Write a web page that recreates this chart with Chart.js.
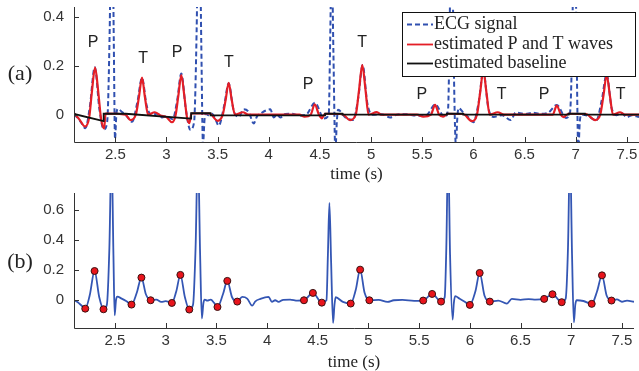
<!DOCTYPE html>
<html>
<head>
<meta charset="utf-8">
<script src="https://cdn.jsdelivr.net/npm/chart.js@4.4.1/dist/chart.umd.min.js"></script>
<style>
  html, body { margin: 0; padding: 0; background: #fff; }
  #wrap { position: relative; width: 639px; height: 371px; }
  #chartA { position: absolute; left: 0; top: 0; }
  #chartB { position: absolute; left: 0; top: 185px; }
</style>
</head>
<body>
<div id="wrap">
  <canvas id="chartA" width="639" height="185"></canvas>
  <canvas id="chartB" width="639" height="186"></canvas>
</div>
<script>
// ECG samples (s, mV-ish)
const ecgTime = [
  2.096, 2.13, 2.17, 2.207, 2.25, 2.299, 2.345, 2.387, 2.42, 2.445, 2.466, 2.485, 2.497, 2.51, 2.523,
  2.566, 2.614, 2.663, 2.715, 2.761, 2.805, 2.852, 2.908, 2.956, 3.0, 3.061, 3.105, 3.145, 3.19, 3.233,
  3.27, 3.295, 3.318, 3.34, 3.357, 3.372, 3.386, 3.41, 3.445, 3.478, 3.511, 3.565, 3.608, 3.655, 3.706,
  3.755, 3.804, 3.853, 3.885, 3.934, 4.015, 4.048, 4.08, 4.113, 4.16, 4.227, 4.30, 4.364, 4.452, 4.54,
  4.586, 4.60, 4.615, 4.632, 4.651, 4.665, 4.677, 4.748, 4.825, 4.875, 4.918, 4.962, 5.009, 5.10, 5.188,
  5.25, 5.335, 5.45, 5.54, 5.628, 5.716, 5.752, 5.768, 5.786, 5.805, 5.83, 5.842, 5.855, 5.90, 5.95,
  6.0, 6.055, 6.097, 6.145, 6.197, 6.28, 6.365, 6.414, 6.50, 6.58, 6.65, 6.733, 6.815, 6.906, 6.945,
  6.968, 6.988, 7.008, 7.026, 7.04, 7.055, 7.12, 7.202, 7.255, 7.303, 7.35, 7.397, 7.45, 7.50, 7.55, 7.619
];
const ecgValue = [
  0.0, -0.012, -0.035, -0.056, 0.03, 0.195, 0.02, -0.06, -0.03, 0.35, 1.0, 0.3, -0.10, 0.0, 0.024,
  0.011, -0.007, -0.029, 0.05, 0.151, 0.04, 0.0, 0.004, -0.011, -0.006, -0.018, 0.06, 0.169, 0.02, -0.062,
  -0.03, 0.35, 1.0, 0.3, -0.122, -0.02, 0.004, -0.002, 0.004, -0.018, -0.045, 0.04, 0.129, 0.02, -0.009,
  0.022, 0.011, -0.036, -0.007, 0.009, 0.022, -0.011, 0.0, -0.011, 0.003, 0.004, -0.003, 0.0, 0.049, -0.016,
  0.0, 0.3, 0.649, 0.25, -0.151, -0.03, 0.02, -0.011, -0.022, 0.07, 0.204, 0.05, 0.0, 0.002, -0.011,
  0.0, 0.002, -0.004, -0.002, 0.042, -0.009, 0.02, 0.35, 1.0, 0.3, -0.129, -0.02, 0.027, 0.01, -0.01,
  -0.031, 0.06, 0.182, 0.03, -0.009, -0.002, -0.022, 0.009, 0.003, 0.008, 0.004, 0.009, 0.04, -0.013, 0.01,
  0.35, 1.0, 0.3, -0.147, -0.03, 0.0, -0.005, -0.024, 0.06, 0.166, 0.03, -0.002, 0.006, -0.01, -0.002, -0.01
];

// estimated P and T waves (red)
const waveTime = [
  2.096, 2.15, 2.204, 2.245, 2.27, 2.302, 2.334, 2.36, 2.39, 2.405, 2.60, 2.647, 2.70, 2.73, 2.761,
  2.79, 2.82, 2.885, 2.94, 3.0, 3.054, 3.09, 3.115, 3.145, 3.175, 3.20, 3.223, 3.245, 3.42, 3.50,
  3.55, 3.578, 3.608, 3.638, 3.67, 3.748, 3.80, 4.30, 4.35, 4.41, 4.449, 4.49, 4.518, 4.55, 4.72,
  4.794, 4.85, 4.882, 4.914, 4.946, 4.975, 5.056, 5.10, 5.45, 5.51, 5.585, 5.625, 5.665, 5.706, 5.75,
  5.90, 5.984, 6.035, 6.066, 6.097, 6.128, 6.16, 6.238, 6.30, 6.72, 6.775, 6.815, 6.855, 6.88, 6.93,
  7.10, 7.19, 7.24, 7.272, 7.303, 7.334, 7.365, 7.433, 7.48, 7.619
];
const waveValue = [
  0.006, -0.02, -0.049, -0.01, 0.09, 0.193, 0.09, -0.015, -0.056, 0.005, 0.0, -0.022, 0.0, 0.07, 0.152,
  0.07, 0.0, 0.01, -0.003, -0.01, -0.031, 0.0, 0.075, 0.163, 0.075, -0.01, -0.035, 0.005, 0.005, -0.025,
  0.0, 0.06, 0.131, 0.06, 0.0, 0.01, 0.0, 0.0, -0.008, 0.0, 0.043, 0.0, -0.015, 0.004, 0.002,
  -0.022, 0.0, 0.1, 0.204, 0.1, 0.0, 0.011, 0.0, 0.0, -0.008, 0.0, 0.04, 0.0, -0.008, 0.004,
  0.003, -0.026, 0.0, 0.09, 0.182, 0.09, 0.0, 0.01, 0.0, 0.0, 0.0, 0.037, 0.0, -0.01, 0.004,
  0.003, -0.022, 0.0, 0.08, 0.163, 0.08, 0.0, 0.01, 0.0, 0.0
];

// estimated baseline (black)
const baseTime = [2.096, 2.385, 2.386, 2.60, 3.24, 3.241, 3.43, 3.431, 4.55, 4.551, 4.72, 4.721,
  5.74, 5.741, 5.90, 5.901, 6.93, 6.931, 7.09, 7.091, 7.619];
const baseValue = [0.003, -0.026, 0.004, 0.004, -0.016, 0.006, 0.006, -0.003, -0.003, 0.004, 0.004, 0.0,
  0.0, 0.004, 0.004, 0.0, 0.0, 0.004, 0.004, 0.0, 0.0];

// detected onset / peak / end points (panel b)
const dotTime = [2.207, 2.299, 2.387, 2.663, 2.761, 2.852, 3.061, 3.145, 3.233, 3.511, 3.608, 3.706,
  4.364, 4.452, 4.54, 4.825, 4.918, 5.009, 5.54, 5.628, 5.716, 6.0, 6.097, 6.197,
  6.733, 6.815, 6.906, 7.202, 7.303, 7.397];
const dotValue = [-0.056, 0.195, -0.06, -0.029, 0.151, 0.0, -0.018, 0.169, -0.062, -0.045, 0.129, -0.009,
  0.0, 0.049, -0.016, -0.022, 0.204, 0.0, -0.002, 0.042, -0.009, -0.031, 0.182, -0.009,
  0.009, 0.04, -0.013, -0.024, 0.166, -0.002];

// P / T annotations (panel a)
const markText = ['P', 'T', 'P', 'T', 'P', 'T', 'P', 'T', 'P', 'T'];
const markTime = [2.282, 2.771, 3.103, 3.611, 4.384, 4.912, 5.495, 6.277, 6.691, 7.44];
const markValue = [0.294, 0.229, 0.253, 0.212, 0.122, 0.294, 0.081, 0.081, 0.081, 0.081];

const xTicks = [2.5, 3, 3.5, 4, 4.5, 5, 5.5, 6, 6.5, 7, 7.5];
const yTicksA = [0, 0.2, 0.4];
const yTicksB = [0, 0.2, 0.4, 0.6];

const pts = (xs, ys) => xs.map((t, i) => ({ x: t, y: ys[i] }));

const SANS = '"Liberation Sans", Arial, sans-serif';
const SERIF = '"Liberation Serif", "Times New Roman", serif';

// axis lines with inward ticks, plus panel tag
const frame = {
  id: 'frame',
  afterDatasetsDraw(chart, args, opts) {
    const { ctx, chartArea: a, scales: { x, y } } = chart;
    ctx.save();
    ctx.strokeStyle = '#333';
    ctx.lineWidth = 1;
    ctx.beginPath();
    ctx.moveTo(a.left + 0.5, a.top);
    ctx.lineTo(a.left + 0.5, a.bottom + 0.5);
    ctx.lineTo(a.right, a.bottom + 0.5);
    xTicks.forEach(v => {
      const px = Math.round(x.getPixelForValue(v)) + 0.5;
      ctx.moveTo(px, a.bottom);
      ctx.lineTo(px, a.bottom - 5);
    });
    opts.yTicks.forEach(v => {
      const py = Math.round(y.getPixelForValue(v)) + 0.5;
      ctx.moveTo(a.left, py);
      ctx.lineTo(a.left + 5, py);
    });
    ctx.stroke();
    ctx.fillStyle = '#222';
    ctx.font = '22px ' + SERIF;
    ctx.textAlign = 'center';
    ctx.textBaseline = 'middle';
    ctx.fillText(opts.tag, 20, opts.tagY);
    ctx.restore();
  }
};

// P/T letters and the boxed legend of panel a
const notes = {
  id: 'notes',
  afterDatasetsDraw(chart, args, opts) {
    if (!opts.on) return;
    const { ctx, scales: { x, y } } = chart;
    ctx.save();
    ctx.fillStyle = '#222';
    ctx.font = '16px ' + SANS;
    ctx.textAlign = 'center';
    ctx.textBaseline = 'middle';
    markText.forEach((s, i) => ctx.fillText(s, x.getPixelForValue(markTime[i]), y.getPixelForValue(markValue[i])));

    ctx.fillStyle = '#fff';
    ctx.fillRect(402, 12, 233, 64);
    ctx.strokeStyle = '#111';
    ctx.lineWidth = 1;
    ctx.strokeRect(402.5, 12.5, 233, 64);
    const rows = [
      { t: 'ECG signal', c: '#3050b0', d: [5, 3], y: 24 },
      { t: 'estimated P and T waves', c: '#e41e26', d: [], y: 44 },
      { t: 'estimated baseline', c: '#111', d: [], y: 63 }
    ];
    ctx.font = '18px ' + SERIF;
    ctx.textAlign = 'left';
    rows.forEach(r => {
      ctx.strokeStyle = r.c;
      ctx.lineWidth = 1.8;
      ctx.setLineDash(r.d);
      ctx.beginPath();
      ctx.moveTo(407, r.y + 0.5);
      ctx.lineTo(433, r.y + 0.5);
      ctx.stroke();
      ctx.setLineDash([]);
      ctx.fillStyle = '#222';
      ctx.fillText(r.t, 434, r.y);
    });
    ctx.restore();
  }
};

function makeScales(yMin, yMax, yTicks, titlePad) {
  return {
    x: {
      type: 'linear',
      min: 2.096,
      max: 7.619,
      afterBuildTicks: s => { s.ticks = xTicks.map(v => ({ value: v })); },
      afterFit: s => { s.height = 43; s.paddingLeft = 0; s.paddingRight = 0; },
      grid: { display: false, drawTicks: false },
      border: { display: false },
      ticks: { padding: 4, color: '#333', font: { family: SANS, size: 15 }, callback: v => String(v), autoSkip: false, maxRotation: 0 },
      title: { display: true, text: 'time (s)', color: '#222', font: { family: SERIF, size: 17, lineHeight: 1 }, padding: { top: 0, bottom: titlePad } }
    },
    y: {
      min: yMin,
      max: yMax,
      afterBuildTicks: s => { s.ticks = yTicks.map(v => ({ value: v })); },
      afterFit: s => { s.width = 74; s.paddingTop = 0; s.paddingBottom = 0; },
      grid: { display: false, drawTicks: false },
      border: { display: false },
      ticks: { padding: 10, color: '#333', font: { family: SANS, size: 15 }, callback: v => String(v) }
    }
  };
}

new Chart(document.getElementById('chartA'), {
  type: 'line',
  data: {
    datasets: [
      { label: 'estimated baseline', data: pts(baseTime, baseValue), borderColor: '#111', borderWidth: 1.8, pointRadius: 0, tension: 0, order: 0 },
      { label: 'estimated P and T waves', data: pts(waveTime, waveValue), borderColor: '#e41e26', borderWidth: 2.2, pointRadius: 0, cubicInterpolationMode: 'monotone', order: 1 },
      { label: 'ECG signal', data: pts(ecgTime, ecgValue), borderColor: '#3050b0', borderWidth: 2, borderDash: [5, 3], pointRadius: 0, cubicInterpolationMode: 'monotone', order: 2 }
    ]
  },
  options: {
    responsive: false,
    devicePixelRatio: 1,
    animation: false,
    layout: { padding: { top: 7, left: 0, right: 0, bottom: 0 } },
    plugins: {
      legend: { display: false },
      tooltip: { enabled: false },
      frame: { yTicks: yTicksA, tag: '(a)', tagY: 74 },
      notes: { on: true }
    },
    scales: makeScales(-0.112, 0.442, yTicksA, 1.5)
  },
  plugins: [frame, notes]
});

new Chart(document.getElementById('chartB'), {
  type: 'line',
  data: {
    datasets: [
      { label: 'points', data: pts(dotTime, dotValue), showLine: false, pointRadius: 3.5, pointBackgroundColor: '#e8141c', pointBorderColor: '#3a1010', pointBorderWidth: 1, order: 0 },
      { label: 'ECG', data: pts(ecgTime, ecgValue), borderColor: '#3456b4', borderWidth: 1.8, pointRadius: 0, cubicInterpolationMode: 'monotone', order: 1 }
    ]
  },
  options: {
    responsive: false,
    devicePixelRatio: 1,
    animation: false,
    layout: { padding: { top: 8, left: 0, right: 0, bottom: 0 } },
    plugins: {
      legend: { display: false },
      tooltip: { enabled: false },
      frame: { yTicks: yTicksB, tag: '(b)', tagY: 77 },
      notes: { on: false }
    },
    scales: makeScales(-0.185, 0.715, yTicksB, 0)
  },
  plugins: [frame, notes]
});
</script>
</body>
</html>
